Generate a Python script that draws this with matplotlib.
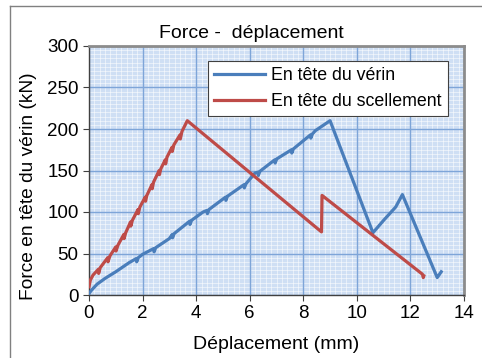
import matplotlib
matplotlib.use("Agg")
import matplotlib.pyplot as plt
from matplotlib.lines import Line2D
from matplotlib.ticker import MultipleLocator

plt.rcParams['font.family'] = ['Liberation Sans', 'DejaVu Sans']

# En tête du vérin
verin_x = [0, 0.1, 0.3, 0.6, 1.0, 1.5, 1.77, 1.78, 1.84, 2.0, 2.42, 2.43, 2.49, 3.0,
           3.11, 3.12, 3.18, 3.76, 3.77, 3.83, 4.26, 4.41, 4.42, 4.48, 5.1, 5.11, 5.17,
           5.79, 5.80, 5.86, 6.2, 6.31, 6.32, 6.38, 6.94, 6.95, 7.01, 7.56, 7.57, 7.63,
           8.27, 8.28, 8.34, 8.45, 9.0, 10.6, 11.0, 11.45, 11.7, 13.0, 13.15]
verin_y = [2, 6, 13, 20, 28, 39, 44, 40, 45, 49, 56, 52, 57, 68,
           73, 69, 74, 89, 85, 90, 100, 102, 98, 103, 118, 114, 119,
           133, 129, 134, 147, 148, 144, 149, 163, 159, 164, 175, 171, 176,
           193, 189, 194, 198, 210, 75, 90, 106, 121, 21, 28]

# En tête du scellement
scel_x = [0, 0.05, 0.15, 0.35, 0.36, 0.42, 0.7, 0.71, 0.78, 1.0, 1.01, 1.08, 1.3, 1.31,
          1.37, 1.55, 1.56, 1.62, 1.83, 1.84, 1.9, 2.1, 2.11, 2.16, 2.35, 2.36, 2.41,
          2.62, 2.63, 2.68, 2.85, 2.86, 2.91, 3.1, 3.11, 3.17, 3.4, 3.41, 3.47, 3.67,
          8.68, 8.70, 12.45, 12.48, 12.5]
scel_y = [10, 18, 24, 31, 26, 33, 45, 40, 47, 58, 53, 60, 73, 68,
          75, 88, 83, 90, 103, 98, 106, 118, 113, 120, 133, 128, 136,
          150, 145, 152, 163, 158, 166, 178, 173, 181, 193, 188, 197, 210,
          76, 120, 25, 21, 23]

x_ticks = list(range(0, 15, 2))
y_ticks = list(range(0, 301, 50))

fig = plt.figure(figsize=(4.82, 3.58), dpi=100)
ax = fig.add_axes([89/482, 63/358, 375/482, 249/358])

# outer chart border
fig.add_artist(Line2D([10/482, 10/482], [0, 352/358], transform=fig.transFigure,
                      color='#808080', lw=1))
fig.add_artist(Line2D([10/482, 1], [352/358, 352/358], transform=fig.transFigure,
                      color='#808080', lw=1))

# graph-paper background
ax.set_facecolor('#cfdff4')
ax.xaxis.set_minor_locator(MultipleLocator(0.2))
ax.yaxis.set_minor_locator(MultipleLocator(5))
ax.grid(which='minor', color='white', lw=0.6, alpha=0.6)
ax.set_axisbelow(True)
ax.vlines(x_ticks, 0, 300, color='#7ea5d8', lw=1.0, zorder=1)
ax.hlines(y_ticks, 0, 14, color='#7ea5d8', lw=1.0, zorder=1)

ax.plot(verin_x, verin_y, color='#4a7ebb', lw=2.3, label='En tête du vérin', zorder=3)
ax.plot(scel_x, scel_y, color='#be4b48', lw=2.3, label='En tête du scellement', zorder=3)

ax.set_xlim(0, 14)
ax.set_ylim(0, 300)
ax.set_xticks(x_ticks)
ax.set_yticks(y_ticks)
ax.tick_params(which='major', direction='out', length=4, labelsize=13.5, color='#404040')
ax.tick_params(which='minor', length=0)

for s in ['left', 'bottom']:
    ax.spines[s].set_color('#404040')
    ax.spines[s].set_linewidth(1)
for s in ['top', 'right']:
    ax.spines[s].set_color('#8c8c8c')
    ax.spines[s].set_linewidth(2)

ax.set_xlabel('Déplacement (mm)', fontsize=14, labelpad=10)
ax.set_ylabel('Force en tête du vérin (kN)', fontsize=13.8)
ax.yaxis.set_label_coords(-0.139, 0.436)
ax.set_title('Force -  déplacement', fontsize=14, pad=6, x=0.432)

leg = ax.legend(loc='upper right', bbox_to_anchor=(0.956, 0.94), fontsize=12.8,
                fancybox=False, framealpha=1, edgecolor='#404040', handlelength=2.9,
                borderpad=0.35, labelspacing=0.5, handletextpad=0.3, borderaxespad=0)
leg.get_frame().set_linewidth(0.8)
leg.set_zorder(5)

fig.savefig('out.png', dpi=100)
